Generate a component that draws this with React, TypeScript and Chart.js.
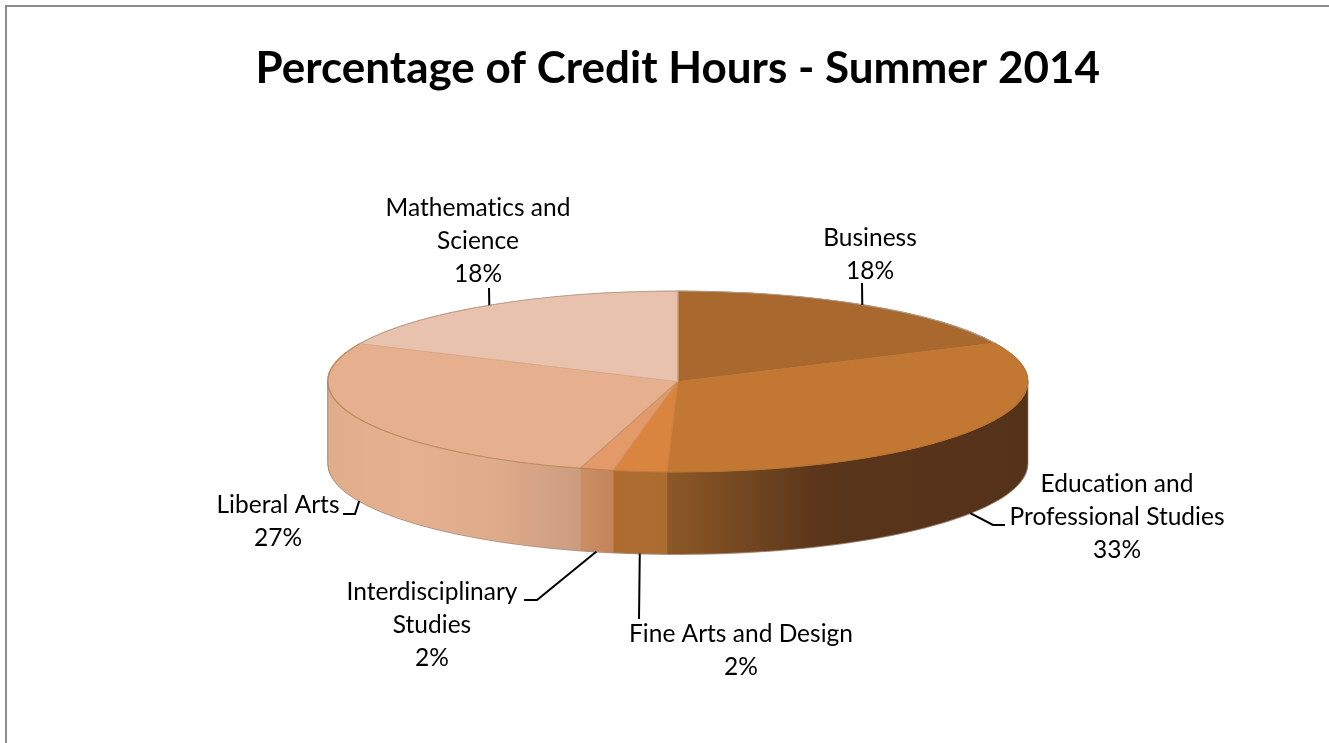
import React, { useEffect, useRef } from "react";
import { Chart, registerables } from "chart.js";

Chart.register(...registerables);

// ---- data ----
const chartTitle = "Percentage of Credit Hours - Summer 2014";
const categories = [
  "Business",
  ["Education and", "Professional Studies"],
  "Fine Arts and Design",
  ["Interdisciplinary", "Studies"],
  "Liberal Arts",
  ["Mathematics and", "Science"],
];
const shares = [18.0, 32.5, 2.46, 1.54, 27.4, 18.1];

// ---- style ----
const topColors = ["#A9682D", "#C27733", "#D98540", "#E39A68", "#E6B08F", "#E9C2AE"];
const topEdges = ["#A9682D", "#BE7433", "#CF8242", "#D0905F", "#C9946B", "#D3A78C"];
const rimColors = ["#B09A88", "#B8752F", "#C07A3A", "#C08250", "#BC8C62", "#B5A090"];
const wallStops: [number, string][][] = [
  [[0, "#6E4420"], [1, "#6E4420"]],
  [[0, "#8C5827"], [0.12, "#7F4F23"], [0.25, "#6F4420"], [0.4, "#5E371B"], [0.5, "#58341A"], [1, "#55321A"]],
  [[0, "#AD6B2F"], [1, "#AC6C30"]],
  [[0, "#CC8F63"], [1, "#C2855B"]],
  [[0, "#E0AD8B"], [0.3, "#E5B08F"], [0.65, "#DFAC8B"], [1, "#CC9C80"]],
  [[0, "#E9C2AE"], [1, "#E9C2AE"]],
];

// label centres (first line) and leader elbows, canvas pixels
const labelPos = [
  { x: 870, y: 238 },
  { x: 1117, y: 484 },
  { x: 741, y: 634 },
  { x: 432, y: 592 },
  { x: 278, y: 505 },
  { x: 478, y: 208 },
];
const leaderEnds: number[][][] = [
  [[862, 283]],
  [[993, 525], [1005, 525]],
  [[639, 619]],
  [[537, 600], [524, 600]],
  [[355, 514], [343, 514]],
  [[489, 288]],
];
const leaderShift = [-3, 0, 0, 0, 0, 0];
const CY = 381.5;
const TILT = 90.5 / 350;
const DEPTH = 82;
const LABEL_FONT = '24.5px Lato, sans-serif';
const LINE_H = 32.8;

const pie3d = {
  id: "pie3d",
  beforeDraw(chart: any) {
    const { ctx, width, height } = chart;
    ctx.save();
    ctx.fillStyle = "#fff";
    ctx.fillRect(0, 0, width, height);
    ctx.strokeStyle = "#8C8C8C";
    ctx.lineWidth = 2;
    ctx.beginPath();
    ctx.moveTo(6, height);
    ctx.lineTo(6, 6);
    ctx.lineTo(width, 6);
    ctx.stroke();
    ctx.restore();
  },
  beforeDatasetsDraw(chart: any) {
    const { ctx } = chart;
    const arcs = chart.getDatasetMeta(0).data;
    arcs.forEach((arc: any, i: number) => {
      const a0 = Math.max(arc.startAngle, 0);
      const a1 = Math.min(arc.endAngle, Math.PI);
      if (a1 <= a0) return;
      const r = arc.outerRadius;
      const ry = r * TILT;
      const x0 = arc.x + r * Math.cos(a1);
      const x1 = arc.x + r * Math.cos(a0);
      const grad = ctx.createLinearGradient(x0, 0, x1, 0);
      const stops = wallStops[i];
      stops.forEach(([p, c]) => grad.addColorStop(p, c));
      ctx.save();
      ctx.beginPath();
      ctx.ellipse(arc.x, CY, r, ry, 0, a0, a1);
      ctx.ellipse(arc.x, CY + DEPTH, r, ry, 0, a1, a0, true);
      ctx.closePath();
      ctx.fillStyle = grad;
      ctx.fill();
      ctx.strokeStyle = grad;
      ctx.lineWidth = 0.8;
      ctx.stroke();
      ctx.beginPath();
      ctx.ellipse(arc.x, CY + DEPTH + 0.5, r, ry, 0, a0, a1);
      ctx.strokeStyle = "rgba(150,125,105,0.75)";
      ctx.lineWidth = 1;
      ctx.stroke();
      ctx.restore();
    });
    const cx = arcs[0].x;
    const cy = arcs[0].y;
    ctx.save();
    ctx.translate(cx, CY);
    ctx.scale(1, TILT);
    ctx.translate(-cx, -cy);
  },
  afterDatasetsDraw(chart: any) {
    const { ctx } = chart;
    ctx.restore();
    const arcs = chart.getDatasetMeta(0).data;
    const values: number[] = chart.data.datasets[0].data;
    const total = values.reduce((s, v) => s + v, 0);
    ctx.save();
    // rim of the top face and the left silhouette edge
    ctx.lineWidth = 1.1;
    arcs.forEach((arc: any, i: number) => {
      ctx.beginPath();
      ctx.ellipse(arc.x, CY, arc.outerRadius, arc.outerRadius * TILT, 0, arc.startAngle, arc.endAngle);
      ctx.strokeStyle = rimColors[i];
      ctx.stroke();
    });
    const a = arcs[0];
    ctx.strokeStyle = "rgba(150,135,125,0.8)";
    ctx.beginPath();
    ctx.moveTo(a.x - a.outerRadius, CY);
    ctx.lineTo(a.x - a.outerRadius, CY + DEPTH);
    ctx.stroke();
    // leaders
    ctx.strokeStyle = "#000";
    ctx.lineWidth = 2;
    arcs.forEach((arc: any, i: number) => {
      const mid = (arc.startAngle + arc.endAngle) / 2;
      const px = arc.x + arc.outerRadius * Math.cos(mid) + leaderShift[i];
      let py = CY + arc.outerRadius * TILT * Math.sin(mid);
      if (Math.sin(mid) > 0) py += DEPTH;
      ctx.beginPath();
      ctx.moveTo(px, py);
      leaderEnds[i].forEach(([x, y]) => ctx.lineTo(x, y));
      ctx.stroke();
    });
    // labels
    ctx.fillStyle = "#000";
    ctx.font = LABEL_FONT;
    (ctx as any).letterSpacing = "0.01px";
    ctx.textAlign = "center";
    ctx.textBaseline = "middle";
    chart.data.labels.forEach((label: any, i: number) => {
      const lines = [...[label].flat(), `${Math.round((values[i] / total) * 100)}%`];
      lines.forEach((t: string, k: number) => {
        ctx.fillText(t, labelPos[i].x, labelPos[i].y + k * LINE_H);
      });
    });
    ctx.restore();
  },
};

export default function App() {
  const ref = useRef<HTMLCanvasElement>(null);
  useEffect(() => {
    document.body.style.margin = "0";
    const chart = new Chart(ref.current!, {
      type: "pie",
      data: {
        labels: categories as any,
        datasets: [
          {
            data: shares,
            backgroundColor: topColors,
            borderColor: topEdges,
            borderWidth: 1.6,
            clip: false,
          } as any,
        ],
      },
      options: {
        animation: false,
        responsive: false,
        events: [],
        radius: 350,
        layout: { padding: { left: 26.5, right: 0, top: 0, bottom: 0 } },
        plugins: {
          legend: { display: false },
          tooltip: { enabled: false },
          title: {
            display: true,
            text: chartTitle,
            color: "#000",
            font: { family: "Lato, sans-serif", size: 44, weight: "bold" },
            padding: { top: 42, bottom: 10 },
          },
        },
      } as any,
      plugins: [pie3d],
    });
    return () => chart.destroy();
  }, []);
  return <canvas ref={ref} width={1329} height={743} style={{ display: "block" }} />;
}
